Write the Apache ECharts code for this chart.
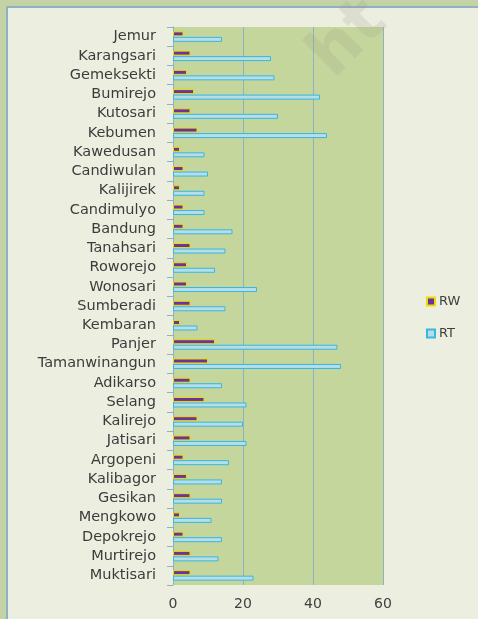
<!DOCTYPE html>
<html>
<head>
<meta charset="UTF-8">
<title>RW RT</title>
<script src="https://cdn.jsdelivr.net/npm/echarts@6/dist/echarts.min.js"></script>
<style>
  html, body { margin: 0; padding: 0; background: #c3d3a6; }
  #chart { width: 478px; height: 619px; }
</style>
</head>
<body>
<div id="chart"></div>
<script>
// desa / kelurahan, dari atas ke bawah
const villages = ['Jemur', 'Karangsari', 'Gemeksekti', 'Bumirejo', 'Kutosari', 'Kebumen',
  'Kawedusan', 'Candiwulan', 'Kalijirek', 'Candimulyo', 'Bandung', 'Tanahsari', 'Roworejo',
  'Wonosari', 'Sumberadi', 'Kembaran', 'Panjer', 'Tamanwinangun', 'Adikarso', 'Selang',
  'Kalirejo', 'Jatisari', 'Argopeni', 'Kalibagor', 'Gesikan', 'Mengkowo', 'Depokrejo',
  'Murtirejo', 'Muktisari'];
const rw = [3, 5, 4, 6, 5, 7, 2, 3, 2, 3, 3, 5, 4, 4, 5, 2, 12, 10, 5, 9, 7, 5, 3, 4, 5, 2, 3, 5, 5];
const rt = [14, 28, 29, 42, 30, 44, 9, 10, 9, 9, 17, 15, 12, 24, 15, 7, 47, 48, 14, 21, 20, 21, 16, 14, 14, 11, 14, 13, 23];
const xTicks = { min: 0, max: 60, interval: 20 };

const chart = echarts.init(document.getElementById('chart'));
const font = '"DejaVu Sans", sans-serif';
const lineCol = '#8fb2c2';

chart.setOption({
  backgroundColor: '#c3d3a6',
  animation: false,
  graphic: [
    { type: 'rect', z: -10, shape: { x: 7, y: 7, width: 480, height: 620 },
      style: { fill: '#eceedf', stroke: lineCol, lineWidth: 2 } },
    { type: 'text', z: 100, x: 298, y: 44, rotation: Math.PI / 4, silent: true,
      style: { text: 'ht', font: 'bold 66px "DejaVu Sans"', fill: 'rgba(140,140,130,0.16)' } }
  ],
  grid: {
    left: 173, right: 95, top: 27, bottom: 34,
    show: true, backgroundColor: '#c4d69b', borderWidth: 0
  },
  legend: {
    orient: 'vertical', left: 421, top: 290,
    itemWidth: 8, itemHeight: 8, itemGap: 19, icon: 'rect',
    textStyle: { fontFamily: font, fontSize: 13, color: '#404040', padding: [0, 0, 0, -1] },
    data: ['RW', 'RT']
  },
  xAxis: {
    type: 'value', min: xTicks.min, max: xTicks.max, interval: xTicks.interval,
    axisLine: { show: false }, axisTick: { show: false },
    splitLine: { lineStyle: { color: lineCol, width: 1 } },
    axisLabel: { fontFamily: font, fontSize: 14, color: '#404040', margin: 12 }
  },
  yAxis: {
    type: 'category', inverse: true, data: villages,
    axisLine: { lineStyle: { color: lineCol, width: 1 } },
    axisTick: { show: true, length: 6, interval: 0, lineStyle: { color: lineCol } },
    axisLabel: { interval: 0, fontFamily: font, fontSize: 14.5, color: '#3c3c3c', margin: 17 }
  },
  series: [
    { name: 'RW', type: 'bar', data: rw, barWidth: 5, barGap: '10%',
      itemStyle: { color: '#7030a0', borderColor: '#e6e000', borderWidth: 1 } },
    { name: 'RT', type: 'bar', data: rt, barWidth: 5,
      itemStyle: { color: '#b7dde8', borderColor: '#36b8e0', borderWidth: 1 } }
  ]
});
</script>
</body>
</html>
